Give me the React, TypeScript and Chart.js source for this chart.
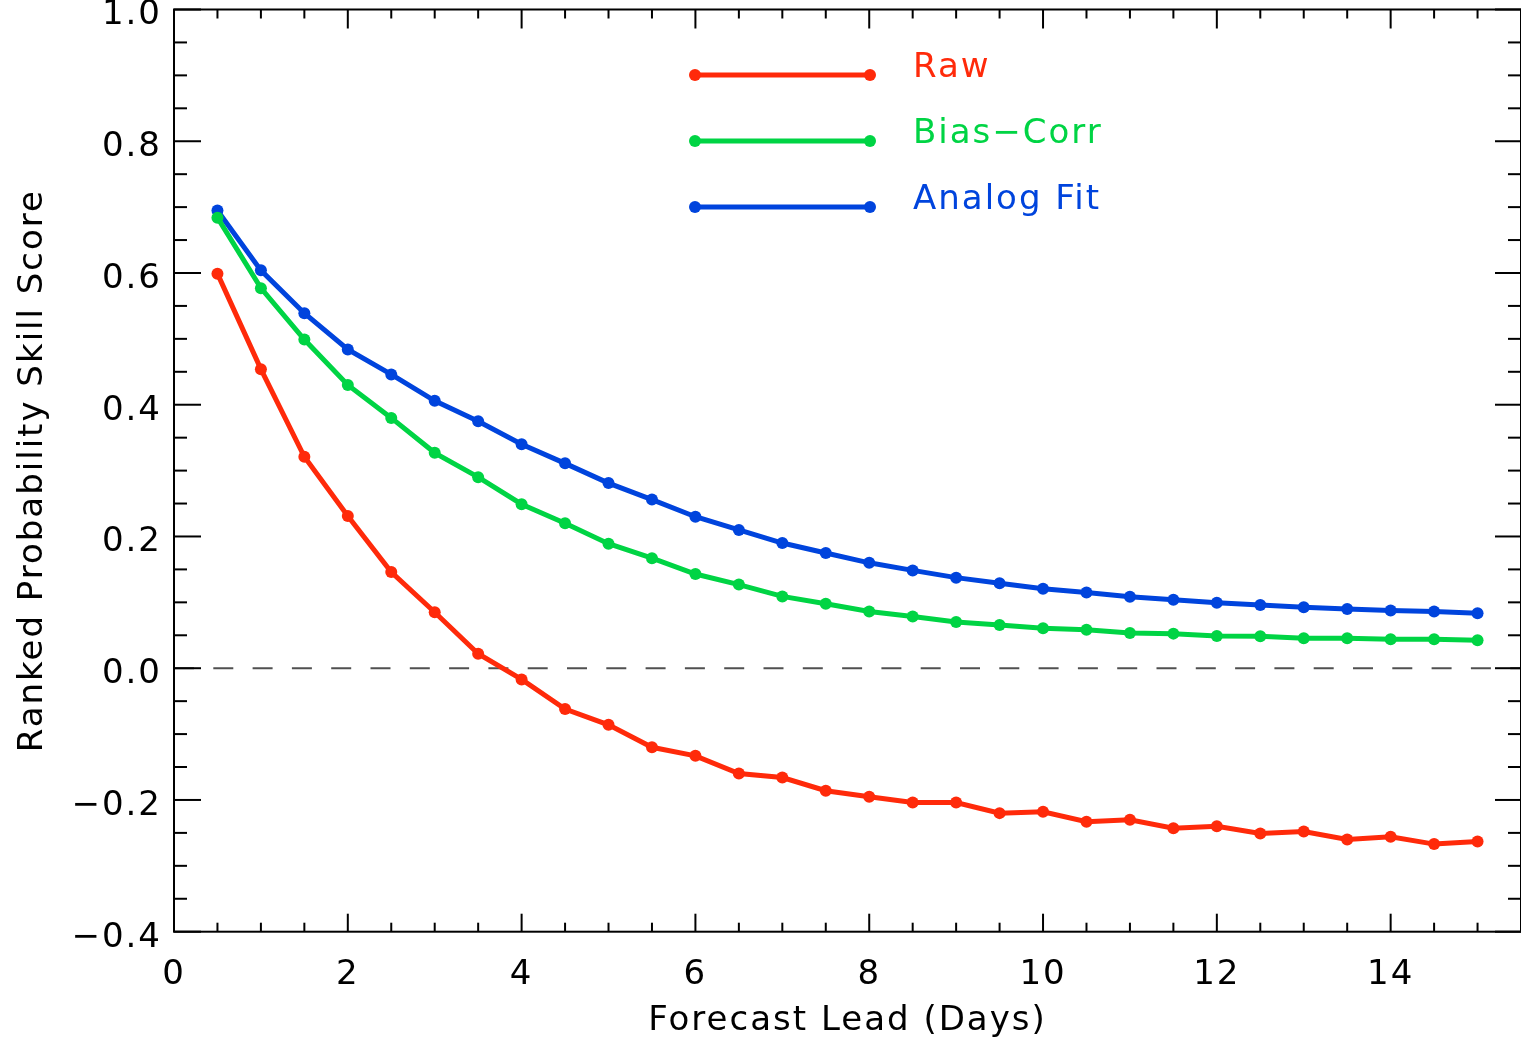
import React, { useEffect, useRef } from 'react';
import { Chart, registerables } from 'chart.js';

Chart.register(...registerables);

// ---- Data ----
const leadDays = [0.5, 1, 1.5, 2, 2.5, 3, 3.5, 4, 4.5, 5, 5.5, 6, 6.5, 7, 7.5, 8, 8.5, 9, 9.5, 10, 10.5, 11, 11.5, 12, 12.5, 13, 13.5, 14, 14.5, 15];

const rawScores = [0.599, 0.454, 0.321, 0.231, 0.146, 0.085, 0.022, -0.017, -0.062, -0.086, -0.120, -0.133, -0.160, -0.166, -0.186, -0.195, -0.204, -0.204, -0.220, -0.218, -0.233, -0.230, -0.243, -0.240, -0.251, -0.248, -0.260, -0.256, -0.267, -0.263];

const biasCorrScores = [0.684, 0.577, 0.499, 0.430, 0.380, 0.327, 0.290, 0.249, 0.220, 0.189, 0.167, 0.143, 0.127, 0.109, 0.098, 0.086, 0.0785, 0.070, 0.0655, 0.0605, 0.0585, 0.0535, 0.0525, 0.049, 0.0485, 0.0455, 0.0455, 0.044, 0.044, 0.0425];

const analogFitScores = [0.695, 0.604, 0.539, 0.484, 0.446, 0.406, 0.375, 0.340, 0.311, 0.281, 0.256, 0.230, 0.210, 0.190, 0.175, 0.160, 0.1485, 0.1375, 0.129, 0.1205, 0.115, 0.1085, 0.104, 0.0995, 0.096, 0.0925, 0.090, 0.0875, 0.086, 0.0835];

const seriesNames = ['Raw', 'Bias\u2212Corr', 'Analog Fit'];
const seriesColors = ['#ff2a0a', '#00d444', '#0044dd'];

const xAxisTitle = 'Forecast Lead (Days)';
const yAxisTitle = 'Ranked Probability Skill Score';
const xRange = [0, 15.5];
const yRange = [-0.4, 1.0];

const FONT_FAMILY = '"DejaVu Sans", sans-serif';
const FONT_SIZE = 34;
const LETTER_SPACING = '2px';

const idlFramePlugin = {
  id: 'idlFrame',
  beforeInit(chart: any) {
    (chart.ctx as any).letterSpacing = LETTER_SPACING;
  },
  beforeDraw(chart: any) {
    (chart.ctx as any).letterSpacing = LETTER_SPACING;
  },
  beforeDatasetsDraw(chart: any) {
    const ctx = chart.ctx;
    const { left, right } = chart.chartArea;
    const y0 = chart.scales.y.getPixelForValue(0);
    ctx.save();
    ctx.strokeStyle = '#505050';
    ctx.lineWidth = 2;
    ctx.setLineDash([20, 19.3]);
    ctx.beginPath();
    ctx.moveTo(left, y0);
    ctx.lineTo(right, y0);
    ctx.stroke();
    ctx.restore();
  },
  afterDatasetsDraw(chart: any) {
    const ctx = chart.ctx;
    const { left, right, top, bottom } = chart.chartArea;
    const xs = chart.scales.x;
    const ys = chart.scales.y;
    ctx.save();
    ctx.strokeStyle = '#000000';
    ctx.lineWidth = 2;
    ctx.setLineDash([]);
    ctx.strokeRect(left, top, right - left, bottom - top);
    const line = (x1: number, y1: number, x2: number, y2: number) => {
      ctx.beginPath();
      ctx.moveTo(x1, y1);
      ctx.lineTo(x2, y2);
      ctx.stroke();
    };
    // x ticks every 0.5, major every 2
    const nx = Math.round((xRange[1] - xRange[0]) / 0.5);
    for (let k = 0; k <= nx; k++) {
      const v = xRange[0] + k * 0.5;
      const px = xs.getPixelForValue(v);
      const major = k % 4 === 0;
      line(px, bottom, px, bottom - (major ? 18 : 9));
      line(px, top, px, top + (major ? 19 : 9));
    }
    // y ticks every 0.05, major every 0.2
    const ny = Math.round((yRange[1] - yRange[0]) / 0.05);
    for (let k = 0; k <= ny; k++) {
      const v = yRange[0] + k * 0.05;
      const py = ys.getPixelForValue(v);
      const major = k % 4 === 0;
      line(left, py, left + (major ? 27 : 13), py);
      line(right, py, right - (major ? 26 : 13), py);
    }
    ctx.restore();

    // Legend (line with dots at both ends + coloured label)
    ctx.save();
    ctx.letterSpacing = LETTER_SPACING;
    chart.data.datasets.forEach((ds: any, i: number) => {
      const ly = 75 + i * 66;
      const x1 = 695;
      const x2 = 870;
      ctx.strokeStyle = ds.borderColor;
      ctx.fillStyle = ds.borderColor;
      ctx.lineWidth = 5;
      ctx.beginPath();
      ctx.moveTo(x1, ly);
      ctx.lineTo(x2, ly);
      ctx.stroke();
      [x1, x2].forEach((cx) => {
        ctx.beginPath();
        ctx.arc(cx, ly, 6, 0, Math.PI * 2);
        ctx.fill();
      });
      ctx.font = `${FONT_SIZE}px ${FONT_FAMILY}`;
      ctx.textAlign = 'left';
      ctx.textBaseline = 'alphabetic';
      ctx.fillText(ds.label, 913, ly + 2);
    });
    ctx.restore();
  },
};

export default function App() {
  const canvasRef = useRef<HTMLCanvasElement | null>(null);

  useEffect(() => {
    document.body.style.margin = '0';
    document.body.style.overflow = 'hidden';
    const canvas = canvasRef.current;
    if (!canvas) return;

    const seriesValues = [rawScores, biasCorrScores, analogFitScores];
    const datasets = seriesValues.map((vals, i) => ({
      label: seriesNames[i],
      data: leadDays.map((x, j) => ({ x, y: vals[j] })),
      borderColor: seriesColors[i],
      backgroundColor: seriesColors[i],
      pointBackgroundColor: seriesColors[i],
      pointBorderWidth: 0,
      pointRadius: 6,
      borderWidth: 5,
      tension: 0,
      fill: false,
    }));

    const font = { family: FONT_FAMILY, size: FONT_SIZE };

    const chart = new Chart(canvas, {
      type: 'line',
      data: { datasets },
      plugins: [idlFramePlugin],
      options: {
        animation: false,
        responsive: false,
        maintainAspectRatio: false,
        layout: { autoPadding: false, padding: { top: 9.5, right: 0, bottom: 0, left: 0 } },
        plugins: {
          legend: { display: false },
          tooltip: { enabled: false },
        },
        scales: {
          x: {
            type: 'linear',
            min: xRange[0],
            max: xRange[1],
            grid: { display: false, drawTicks: false },
            border: { display: false },
            ticks: {
              stepSize: 2,
              includeBounds: false,
              color: '#000',
              font,
              padding: 23,
              maxRotation: 0,
              callback: (v: any) => String(v),
            },
            title: {
              display: true,
              text: xAxisTitle,
              color: '#000',
              font,
              padding: { top: 0, bottom: 1 },
            },
            afterFit: (scale: any) => {
              scale.height = 111.3;
              scale.paddingLeft = 0;
              scale.paddingRight = 0;
            },
          },
          y: {
            type: 'linear',
            min: yRange[0],
            max: yRange[1],
            grid: { display: false, drawTicks: false },
            border: { display: false },
            ticks: {
              stepSize: 0.2,
              includeBounds: false,
              color: '#000',
              font,
              padding: 12,
              labelOffset: 6,
              callback: (v: any) => {
                const n = Number(v);
                if (Math.abs(n) < 1e-9) return '0.0';
                const s = Math.abs(n).toFixed(1);
                return n < 0 ? '\u2212' + s : s;
              },
            },
            title: {
              display: true,
              text: yAxisTitle,
              color: '#000',
              font,
              padding: { top: 13, bottom: 0 },
            },
            afterFit: (scale: any) => {
              scale.width = 174;
              scale.paddingTop = 0;
              scale.paddingBottom = 0;
            },
          },
        },
      } as any,
    });

    return () => {
      chart.destroy();
    };
  }, []);

  return (
    <div style={{ width: 1521, height: 1043 }}>
      <canvas ref={canvasRef} width={1521} height={1043} style={{ display: 'block' }} />
    </div>
  );
}
